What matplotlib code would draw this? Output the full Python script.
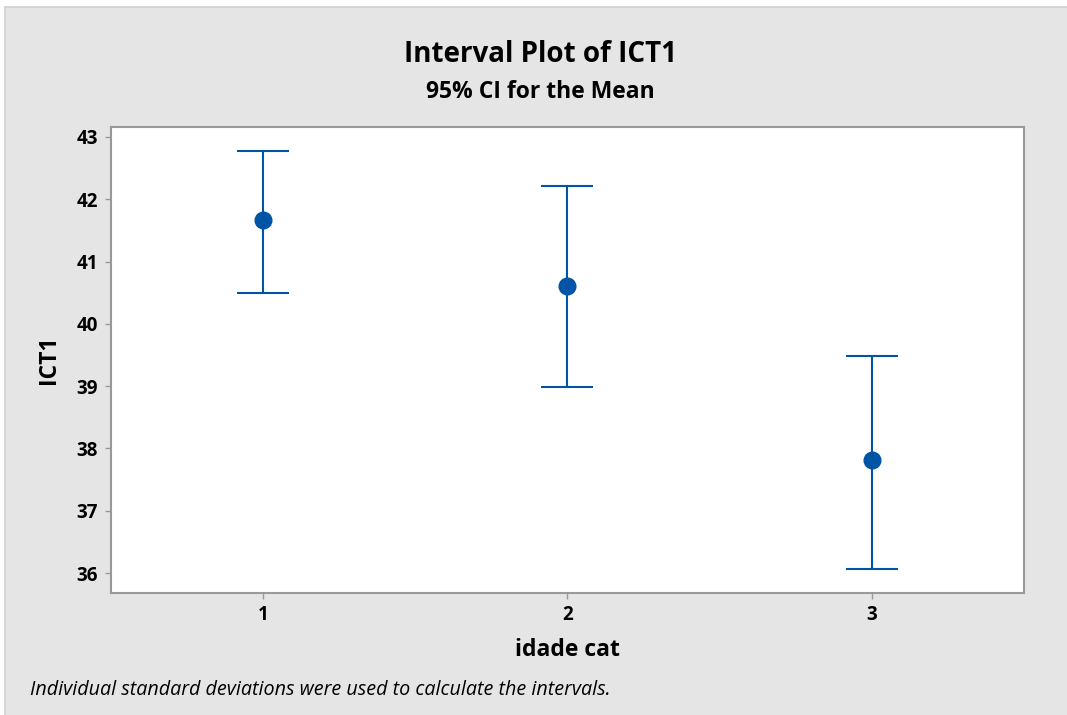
import matplotlib.pyplot as plt
from matplotlib.patches import Rectangle

groups = [1, 2, 3]
means = [41.66, 40.61, 37.81]
lower = [40.50, 38.98, 36.06]
upper = [42.78, 42.21, 39.49]

blue = '#0054a6'
bg = '#e5e5e5'

plt.rcParams['font.family'] = ['Open Sans', 'DejaVu Sans']

fig = plt.figure(figsize=(10.67, 7.15), dpi=100, facecolor='white')
# grey panel with thin light border, slight white margin top/left
fig.patches.append(Rectangle((5 / 1067, -0.1), 1.1, 1.1 - 7 / 715, transform=fig.transFigure,
                             facecolor=bg, edgecolor='#cfcfcf', linewidth=1.2, zorder=-1))

ax = fig.add_axes([110.5 / 1067, 1 - 593 / 715, (1024 - 110.5) / 1067, (593 - 127) / 715])
ax.set_facecolor('white')

err_lo = [m - l for m, l in zip(means, lower)]
err_hi = [u - m for m, u in zip(means, upper)]
ax.errorbar(groups, means, yerr=[err_lo, err_hi], fmt='o', color=blue,
            ecolor=blue, elinewidth=1.5, capsize=18.5, capthick=1.5,
            markersize=12, zorder=3)

ax.set_xlim(0.5, 3.5)
ax.set_ylim(35.68, 43.16)
ax.set_xticks(groups)
ax.set_yticks(range(36, 44))

for s in ax.spines.values():
    s.set_color('#999999')
    s.set_linewidth(1.5)
ax.tick_params(axis='both', color='#999999', length=4, width=1, labelsize=13.5, pad=5)
for lab in ax.get_xticklabels() + ax.get_yticklabels():
    lab.set_fontweight('bold')

ax.set_xlabel('idade cat', fontsize=16.5, fontweight='bold', labelpad=9)
ax.set_ylabel('ICT1', fontsize=16.5, fontweight='bold', labelpad=11)

fig.text(540 / 1067, 1 - 55 / 715, 'Interval Plot of ICT1', ha='center', va='center',
         fontsize=20, fontweight='bold')
fig.text(540 / 1067, 1 - 92 / 715, '95% CI for the Mean', ha='center', va='center',
         fontsize=16.5, fontweight='bold')
fig.text(30 / 1067, 1 - 690 / 715, 'Individual standard deviations were used to calculate the intervals.',
         ha='left', va='center', fontsize=14.2, style='italic')

fig.savefig('out.png', dpi=100, facecolor=fig.get_facecolor())
